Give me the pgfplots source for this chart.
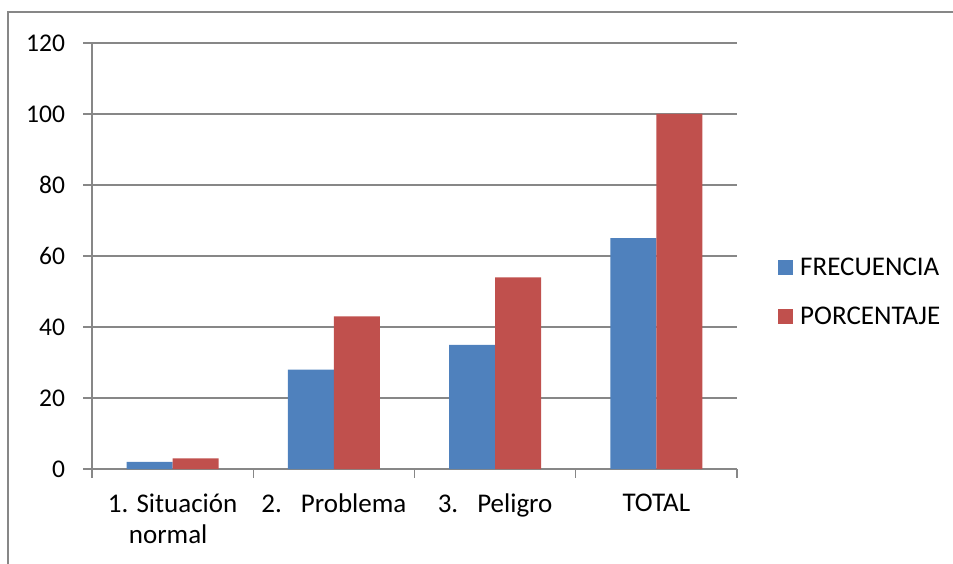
\documentclass[border=0pt]{standalone}
\usepackage{fontspec}
\setmainfont{Carlito}
\usepackage{pgfplots}
\pgfplotsset{compat=1.18}
\definecolor{barblue}{HTML}{4F81BD}
\definecolor{barred}{HTML}{C0504D}
\definecolor{gridgray}{HTML}{878787}
\begin{document}
\begin{tikzpicture}
\useasboundingbox (0pt,0pt) rectangle (953pt,563pt);
\draw[gridgray, line width=1.3pt] (8pt,-5pt) -- (8pt,551pt) -- (960pt,551pt);
\begin{axis}[
  at={(92pt,94pt)}, anchor=south west,
  scale only axis, width=645pt, height=426pt,
  xmin=-0.5, xmax=3.5, ymin=0, ymax=120,
  ytick={0,20,...,120},
  xtick={-0.5,0.5,1.5,2.5,3.5},
  xticklabels={},
  extra x ticks={0,1,2,3},
  extra x tick labels={{1. Situación\\\hspace*{21pt}normal},{2.\hspace*{19pt}Problema},{3.\hspace*{19pt}Peligro},{TOTAL}},
  extra x tick style={major tick length=0pt},
  axis x line*=bottom, axis y line*=left,
  axis line style={gridgray, line width=1.3pt, -},
  tick style={gridgray, line width=1.3pt},
  major tick length=8.5pt,
  tick align=outside,
  ymajorgrids=true,
  grid style={gridgray, line width=1.3pt},
  /pgf/number format/assume math mode=true,
  yticklabel style={font=\fontsize{25.5}{30}\selectfont, anchor=east, xshift=-15pt},
  xticklabel style={font=\fontsize{27}{31}\selectfont, anchor=north, align=left, yshift=-21pt},
  ybar=0pt, bar width=46pt,
  legend style={at={(1.0636,0.5)}, anchor=north west, draw=none, fill=none,
    font=\fontsize{27}{32}\selectfont, row sep=26pt, inner sep=0pt},
  legend cell align=left,
  legend image code/.code={\fill[#1] (0pt,-7.5pt) rectangle (15pt,7.5pt); \path (20pt,0pt);},
]
\addplot[fill=barblue, draw=none] coordinates {(0,2) (1,28) (2,35) (3,65)};
\addplot[fill=barred, draw=none] coordinates {(0,3) (1,43) (2,54) (3,100)};
\legend{FRECUENCIA, PORCENTAJE}
\end{axis}
\end{tikzpicture}
\end{document}
